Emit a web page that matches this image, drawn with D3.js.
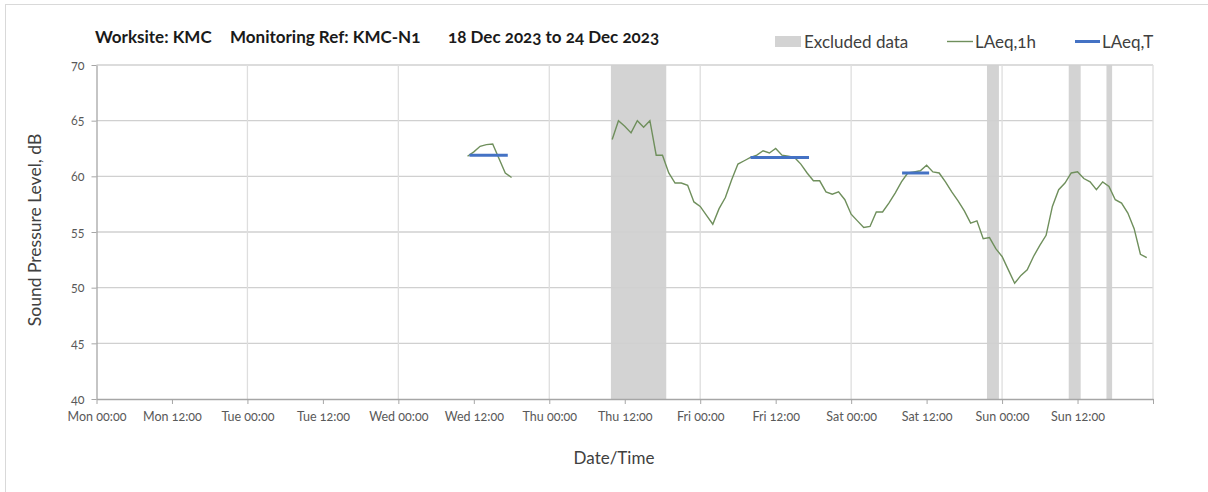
<!DOCTYPE html>
<html>
<head>
<meta charset="utf-8">
<script src="https://cdn.jsdelivr.net/npm/d3@7"></script>
<style>
  body { margin: 0; background: #fff; }
  text { font-family: Lato, "Open Sans", sans-serif; font-variant-numeric: oldstyle-nums; }
</style>
</head>
<body>
<div id="chart"></div>
<script>
// hours counted from Mon 18 Dec 2023 00:00
const tickHours = d3.range(0, 168, 12);
const tickLabels = ["Mon 00:00", "Mon 12:00", "Tue 00:00", "Tue 12:00", "Wed 00:00", "Wed 12:00",
  "Thu 00:00", "Thu 12:00", "Fri 00:00", "Fri 12:00", "Sat 00:00", "Sat 12:00", "Sun 00:00", "Sun 12:00"];
const yTicks = [40, 45, 50, 55, 60, 65, 70];

// LAeq,1h (null = no data)
const hourlyHours = [59, 60, 61, 62, 63, 64, 65, 66, 67].concat(d3.range(82, 168));
const hourlyValues = [
  61.8, 62.2, 62.7, 62.85, 62.9, 61.6, 60.3, 59.9, null,
  63.3, 65.0, 64.5, 63.9, 65.0, 64.4, 65.0, 61.9, 61.9, 60.3,
  59.4, 59.4, 59.2, 57.7, 57.3, 56.5, 55.7, 57.1, 58.1, 59.7,
  61.1, 61.4, 61.7, 61.9, 62.3, 62.1, 62.5, 61.9, 61.8, 61.7,
  61.1, 60.3, 59.6, 59.6, 58.6, 58.4, 58.6, 57.9, 56.6, 56.0,
  55.4, 55.5, 56.8, 56.8, 57.6, 58.5, 59.5, 60.3, 60.4, 60.5,
  61.0, 60.4, 60.3, 59.5, 58.6, 57.8, 56.9, 55.8, 56.0, 54.4,
  54.5, 53.5, 52.8, 51.6, 50.4, 51.1, 51.6, 52.8, 53.8, 54.7,
  57.3, 58.8, 59.4, 60.3, 60.4, 59.8, 59.5, 58.8, 59.5, 59.1,
  57.9, 57.6, 56.7, 55.3, 53.0, 52.7
];

// LAeq,T periods
const periodStart = [59.3, 104.0, 128.1];
const periodEnd = [65.4, 113.3, 132.4];
const periodValue = [61.9, 61.7, 60.3];

// excluded data periods
const excludedStart = [81.8, 141.6, 154.6, 160.6];
const excludedEnd = [90.6, 143.5, 156.5, 161.5];

const width = 1208, height = 492;
const margin = { top: 65, right: 55, bottom: 93, left: 96.5 };
const innerW = width - margin.left - margin.right;
const innerH = height - margin.top - margin.bottom;

const svg = d3.select("#chart").append("svg")
  .attr("width", width)
  .attr("height", height);

// outer chart border (top and left visible)
svg.append("rect")
  .attr("x", 5.5).attr("y", 4.5)
  .attr("width", width + 10).attr("height", height + 10)
  .attr("fill", "none")
  .attr("stroke", "#d9d9d9");

const g = svg.append("g")
  .attr("transform", `translate(${margin.left},${margin.top})`);

const x = d3.scaleLinear().domain([0, 168]).range([0, innerW]);
const y = d3.scaleLinear().domain([40, 70]).range([innerH, 0]);

// excluded bands
g.selectAll("rect.excl")
  .data(excludedStart.map((s, i) => ({ s, e: excludedEnd[i] })))
  .join("rect")
  .attr("class", "excl")
  .attr("x", d => x(d.s))
  .attr("width", d => x(d.e) - x(d.s))
  .attr("y", 0)
  .attr("height", innerH)
  .attr("fill", "#d3d3d3");

// horizontal gridlines
g.selectAll("line.hgrid")
  .data(yTicks.filter(v => v > 40))
  .join("line")
  .attr("class", "hgrid")
  .attr("x1", 0).attr("x2", innerW)
  .attr("y1", d => y(d)).attr("y2", d => y(d))
  .attr("stroke", "#d0d0d0")
  .attr("stroke-width", 1.3);

// vertical gridlines every day
g.selectAll("line.vgrid")
  .data(d3.range(24, 169, 24))
  .join("line")
  .attr("class", "vgrid")
  .attr("x1", d => x(d)).attr("x2", d => x(d))
  .attr("y1", 0).attr("y2", innerH)
  .attr("stroke", "#dedede")
  .attr("stroke-width", 1.3);

// axes
const xAxis = d3.axisBottom(x)
  .tickValues(tickHours.concat([168]))
  .tickFormat(d => tickLabels[tickHours.indexOf(d)] || "")
  .tickSize(5)
  .tickSizeOuter(0);
const xg = g.append("g")
  .attr("transform", `translate(0,${innerH})`)
  .call(xAxis);
xg.select(".domain").attr("stroke", "#a6a6a6").attr("stroke-width", 1.3);
xg.selectAll(".tick line").attr("stroke", "#a6a6a6");
xg.selectAll(".tick text")
  .attr("dy", "0.6em")
  .attr("y", 14)
  .attr("fill", "#595959")
  .style("font-size", "12.5px");

const yAxis = d3.axisLeft(y).tickValues(yTicks).tickSize(5).tickSizeOuter(0);
const yg = g.append("g").call(yAxis);
yg.select(".domain").attr("stroke", "#a6a6a6").attr("stroke-width", 1.3);
yg.selectAll(".tick line").attr("stroke", "#a6a6a6");
yg.selectAll(".tick text")
  .attr("x", -12)
  .attr("fill", "#595959")
  .style("font-size", "12.5px");

// LAeq,1h line
const hourly = hourlyHours.map((h, i) => ({ h, v: hourlyValues[i] }));
const line = d3.line()
  .defined(d => d.v !== null)
  .x(d => x(d.h))
  .y(d => y(d.v));
g.append("path")
  .datum(hourly)
  .attr("d", line)
  .attr("fill", "none")
  .attr("stroke", "#6f8f5c")
  .attr("stroke-width", 1.4);

// LAeq,T
g.selectAll("line.period")
  .data(periodStart.map((s, i) => ({ s, e: periodEnd[i], v: periodValue[i] })))
  .join("line")
  .attr("class", "period")
  .attr("x1", d => x(d.s)).attr("x2", d => x(d.e))
  .attr("y1", d => y(d.v)).attr("y2", d => y(d.v))
  .attr("stroke", "#4472c4")
  .attr("stroke-width", 3);

// title
const title = svg.append("g").style("font-size", "17px").style("font-weight", "bold").attr("fill", "#1a1a1a");
title.append("text").attr("x", 95).attr("y", 43).text("Worksite: KMC");
title.append("text").attr("x", 230).attr("y", 43).text("Monitoring Ref: KMC-N1");
title.append("text").attr("x", 448).attr("y", 43).text("18 Dec 2023 to 24 Dec 2023");

// legend
const legend = svg.append("g").style("font-size", "17px").attr("fill", "#404040");
legend.append("rect").attr("x", 775).attr("y", 36).attr("width", 26).attr("height", 11).attr("fill", "#d3d3d3");
legend.append("text").attr("x", 804).attr("y", 48).text("Excluded data");
legend.append("line").attr("x1", 947).attr("x2", 973).attr("y1", 41.5).attr("y2", 41.5)
  .attr("stroke", "#6f8f5c").attr("stroke-width", 1.4);
legend.append("text").attr("x", 975).attr("y", 48).text("LAeq,1h");
legend.append("line").attr("x1", 1075).attr("x2", 1100).attr("y1", 41.5).attr("y2", 41.5)
  .attr("stroke", "#4472c4").attr("stroke-width", 3);
legend.append("text").attr("x", 1102).attr("y", 48).text("LAeq,T");

// axis titles
svg.append("text")
  .attr("transform", "rotate(-90)")
  .attr("x", -230)
  .attr("y", 41)
  .attr("text-anchor", "middle")
  .attr("fill", "#404040")
  .style("font-size", "17.5px")
  .text("Sound Pressure Level, dB");

svg.append("text")
  .attr("x", 614)
  .attr("y", 464)
  .attr("text-anchor", "middle")
  .attr("fill", "#404040")
  .style("font-size", "17px")
  .text("Date/Time");
</script>
</body>
</html>
